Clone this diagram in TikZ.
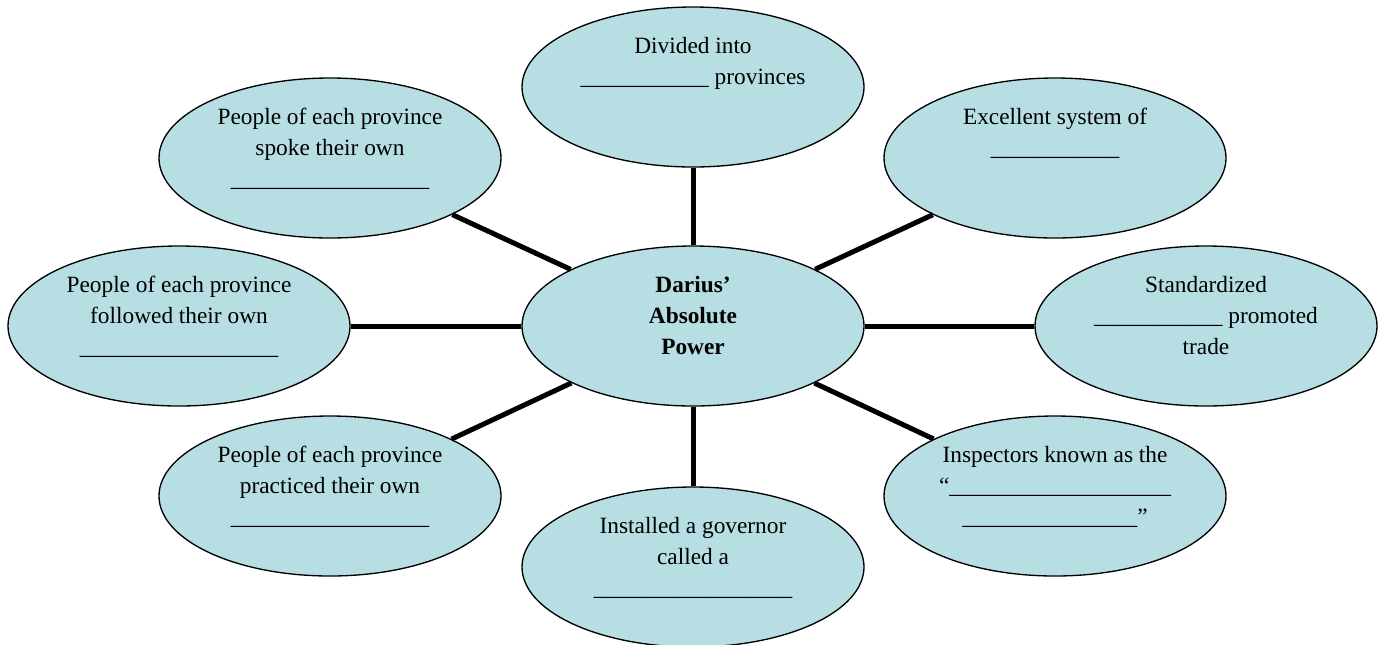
\documentclass[tikz,border=0pt]{standalone}
\usepackage{fontspec}
\setmainfont{Liberation Serif}
\usetikzlibrary{shapes.geometric,calc}
\definecolor{bubfill}{HTML}{B7DEE3}
\newcommand\blanks[1]{\foreach \i in {1,...,#1}{\_}}
\begin{document}
\begin{tikzpicture}[x=0.75pt,y=-0.75pt,
  bub/.style={ellipse, draw=black, line width=1pt, fill=bubfill,
    minimum width=256.5pt, minimum height=120pt, inner sep=0pt},
  lbl/.style={anchor=north, align=center, inner sep=0pt, yshift=16.275pt,
    font=\fontsize{17.5}{23.25}\selectfont},
  link/.style={line width=3.75pt}]
\useasboundingbox (0,0) rectangle (1383,644);
% bubbles
\node[bub] (c)  at (693,326) {};
\node[bub] (t)  at (693,87)  {};
\node[bub] (b)  at (693,567) {};
\node[bub] (l)  at (179,326) {};
\node[bub] (r)  at (1206,326) {};
\node[bub] (tl) at (330,158) {};
\node[bub] (bl) at (330,496) {};
\node[bub] (tr) at (1055,158) {};
\node[bub] (br) at (1055,496) {};
% connectors
\begin{scope}[on background layer/.style={}]
\foreach \n in {t,b,l,r,tl,bl,tr,br}{\draw[link] (c) -- (\n);}
\end{scope}
% labels
\node[lbl] (ct)  at ($(c)+(0,-34)$)  {\strut\bfseries Darius’\\\bfseries Absolute\\\bfseries Power};
\node[lbl] (tt)  at ($(t)+(0,-34)$)  {\strut Divided into\\\_\_\_\_\_\_\_\_\_\_\_ provinces};
\node[lbl] (tlt) at ($(tl)+(0,-34)$) {\strut People of each province\\spoke their own\\\_\_\_\_\_\_\_\_\_\_\_\_\_\_\_\_\_};
\node[lbl] (lt)  at ($(l)+(0,-34)$)  {\strut People of each province\\followed their own\\\_\_\_\_\_\_\_\_\_\_\_\_\_\_\_\_\_};
\node[lbl] (blt) at ($(bl)+(0,-34)$) {\strut People of each province\\practiced their own\\\_\_\_\_\_\_\_\_\_\_\_\_\_\_\_\_\_};
\node[lbl] (bt)  at ($(b)+(0,-34)$)  {\strut Installed a governor\\called a\\\_\_\_\_\_\_\_\_\_\_\_\_\_\_\_\_\_};
\node[lbl] (trt) at ($(tr)+(0,-34)$) {\strut Excellent system of\\\_\_\_\_\_\_\_\_\_\_\_};
\node[lbl] (rt)  at ($(r)+(0,-34)$)  {\strut Standardized\\\_\_\_\_\_\_\_\_\_\_\_ promoted\\trade};
\node[lbl] (brt) at ($(br)+(0,-34)$) {\strut Inspectors known as the\\“\_\_\_\_\_\_\_\_\_\_\_\_\_\_\_\_\_\_\_\\\_\_\_\_\_\_\_\_\_\_\_\_\_\_\_”};
\end{tikzpicture}
\end{document}
